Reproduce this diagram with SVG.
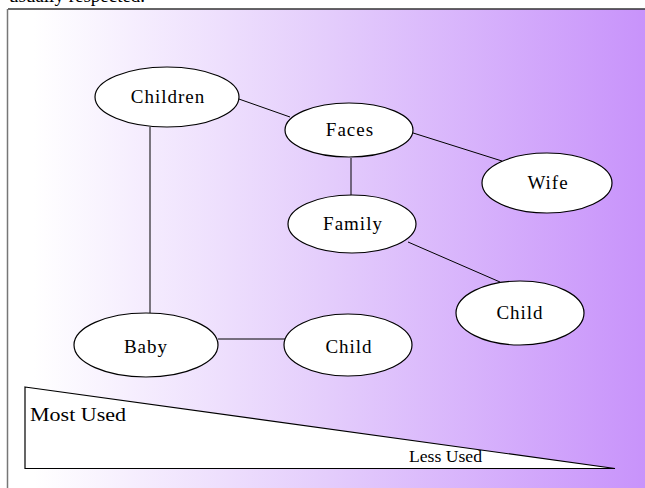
<svg xmlns="http://www.w3.org/2000/svg" width="645" height="488" viewBox="0 0 645 488">
<defs>
<linearGradient id="bg" x1="8" y1="0" x2="645" y2="0" gradientUnits="userSpaceOnUse">
<stop offset="0.04" stop-color="#ffffff"/>
<stop offset="0.5" stop-color="#e4cdfc"/>
<stop offset="1" stop-color="#c893fb"/>
</linearGradient>
<style>
.node ellipse{fill:#ffffff;stroke:#000;stroke-width:1.2}
.node text{font-family:"Liberation Serif","Times New Roman",serif;font-size:19px;letter-spacing:1px;text-anchor:middle;fill:#000}
#connectors line{stroke:#000;stroke-width:1}
.lbl{font-family:"Liberation Serif","Times New Roman",serif;fill:#000}
</style>
</defs>
<rect width="645" height="488" fill="#ffffff"/>
<text class="lbl" x="9" y="2" font-size="19">usually respected.</text>
<rect x="8" y="9" width="640" height="485" fill="url(#bg)"/>
<line x1="8" y1="9" x2="645" y2="9" stroke="#333" stroke-width="1.5"/>
<line x1="7.5" y1="9" x2="7.5" y2="488" stroke="#777" stroke-width="1.5"/>
<g id="connectors">
<line x1="236" y1="98" x2="290" y2="117"/>
<line x1="410" y1="132" x2="502" y2="161"/>
<line x1="351" y1="158" x2="351" y2="196"/>
<line x1="408" y1="242" x2="500" y2="282"/>
<line x1="150" y1="127" x2="150" y2="313"/>
<line x1="218" y1="339" x2="285" y2="339"/>
</g>
<g id="children" class="node"><ellipse cx="167" cy="97" rx="72" ry="30"/><text x="168" y="102.5">Children</text></g>
<g id="faces" class="node"><ellipse cx="349" cy="130" rx="64" ry="27"/><text x="350" y="135.5">Faces</text></g>
<g id="wife" class="node"><ellipse cx="547" cy="183" rx="65" ry="30"/><text x="548" y="188.5">Wife</text></g>
<g id="family" class="node"><ellipse cx="352" cy="224" rx="64" ry="29"/><text x="353" y="229.5">Family</text></g>
<g id="child-right" class="node"><ellipse cx="520" cy="313" rx="64" ry="32"/><text x="520" y="318.5">Child</text></g>
<g id="baby" class="node"><ellipse cx="146" cy="345" rx="72" ry="32"/><text x="146" y="353">Baby</text></g>
<g id="child-bottom" class="node"><ellipse cx="348" cy="345" rx="64" ry="31"/><text x="349" y="353">Child</text></g>
<g id="scale">
<polygon points="25,387 615,468.5 25,468.5" fill="#ffffff" stroke="#000" stroke-width="1.2"/>
<text class="lbl" x="30" y="421" font-size="19" textLength="96" lengthAdjust="spacingAndGlyphs">Most Used</text>
<text class="lbl" x="409" y="462" font-size="16" textLength="73" lengthAdjust="spacingAndGlyphs">Less Used</text>
</g>
</svg>
